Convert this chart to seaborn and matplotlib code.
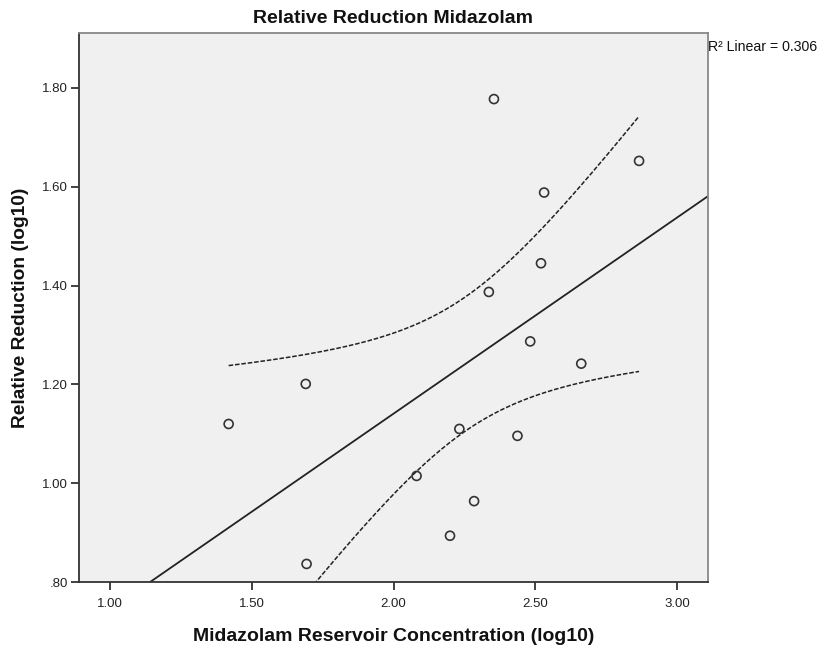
import numpy as np
import pandas as pd
import matplotlib
matplotlib.use("Agg")
import matplotlib.pyplot as plt
import seaborn as sns
from matplotlib.ticker import FuncFormatter

# Midazolam reservoir concentration vs. relative reduction (both log10)
concentration = [1.418, 1.690, 1.693, 2.081, 2.232, 2.199, 2.284, 2.354,
                 2.866, 2.531, 2.520, 2.336, 2.482, 2.662, 2.437]
reduction = [1.120, 1.201, 0.837, 1.015, 1.110, 0.894, 0.964, 1.777,
             1.652, 1.588, 1.445, 1.387, 1.287, 1.242, 1.096]

x_ticks = [1.00, 1.50, 2.00, 2.50, 3.00]
y_ticks = [0.80, 1.00, 1.20, 1.40, 1.60, 1.80]

df = pd.DataFrame({"conc": concentration, "red": reduction})

sns.set_theme(style="white")
plt.rcParams["font.family"] = ["Liberation Sans", "DejaVu Sans"]

fig = plt.figure(figsize=(8.27, 6.48), dpi=100)
ax = fig.add_axes([0.0955, 0.1015, 0.8557 - 0.0955, 0.9486 - 0.1015])
ax.set_facecolor("#f0f0f0")

xlim = (0.89, 3.108)
ylim = (0.80, 1.91)

# ordinary least squares fit with 95% confidence band for the mean
x = df["conc"].to_numpy()
y = df["red"].to_numpy()
n = len(x)
slope, intercept = np.polyfit(x, y, 1)
resid = y - (intercept + slope * x)
sse = np.sum(resid ** 2)
r2 = 1 - sse / np.sum((y - y.mean()) ** 2)
s = np.sqrt(sse / (n - 2))
sxx = np.sum((x - x.mean()) ** 2)
t_crit = 2.160368652  # t(0.975, df=13)

fit_x = np.linspace(xlim[0], xlim[1], 200)
fit_df = pd.DataFrame({"x": fit_x, "y": intercept + slope * fit_x})
band_x = np.linspace(x.min(), x.max(), 200)
half = t_crit * s * np.sqrt(1 / n + (band_x - x.mean()) ** 2 / sxx)
band_mid = intercept + slope * band_x
band_df = pd.DataFrame({"x": band_x, "lo": band_mid - half, "hi": band_mid + half})

sns.lineplot(data=fit_df, x="x", y="y", ax=ax, color="#222222", lw=1.3,
             estimator=None, sort=False)
for col in ["lo", "hi"]:
    sns.lineplot(data=band_df, x="x", y=col, ax=ax, color="#222222", lw=1.1,
                 estimator=None, sort=False, dashes=False,
                 linestyle=(0, (3.0, 1.2)))

sns.scatterplot(data=df, x="conc", y="red", ax=ax, marker="o", s=42,
                facecolor="none", edgecolor="#333333", linewidth=1.2, zorder=5)

ax.set_xlim(*xlim)
ax.set_ylim(*ylim)
ax.set_xticks(x_ticks)
ax.set_yticks(y_ticks)
ax.xaxis.set_major_formatter(FuncFormatter(lambda v, p: f"{v:.2f}"))
ax.yaxis.set_major_formatter(
    FuncFormatter(lambda v, p: f"{v:.2f}".lstrip("0") if v < 1 else f"{v:.2f}"))
ax.tick_params(axis="both", direction="out", length=6, width=1.3,
               color="#333333", labelsize=9.5, labelcolor="#222222",
               bottom=True, left=True, pad=2)
ax.tick_params(axis="x", pad=5)

for side in ["top", "right", "bottom", "left"]:
    ax.spines[side].set_visible(True)
    ax.spines[side].set_linewidth(1.3)
ax.spines["left"].set_color("#333333")
ax.spines["bottom"].set_color("#333333")
ax.spines["top"].set_color("#888888")
ax.spines["right"].set_color("#888888")

ax.set_xlabel("Midazolam Reservoir Concentration (log10)", fontsize=14,
              fontweight="bold", color="#111111", labelpad=13)
ax.set_ylabel("Relative Reduction (log10)", fontsize=13.8,
              fontweight="bold", color="#111111", labelpad=9)
ax.set_title("Relative Reduction Midazolam", fontsize=14, fontweight="bold",
             color="#111111", pad=7.5)

fig.text(0.856, 0.938, f"R\u00b2 Linear = {r2:.3f}", fontsize=10.2,
         color="#111111", ha="left", va="top")

fig.savefig("out.png", dpi=100, facecolor="white")
